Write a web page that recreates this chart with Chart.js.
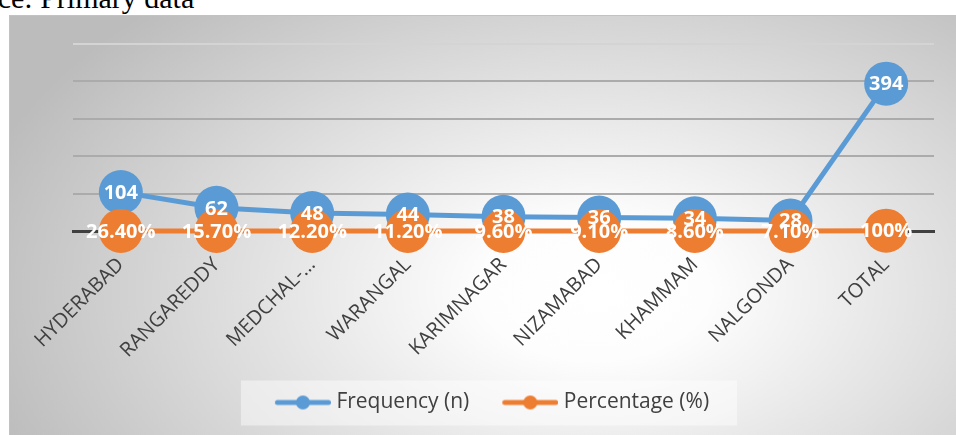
<!DOCTYPE html>
<html>
<head>
<meta charset="utf-8">
<script src="https://cdn.jsdelivr.net/npm/chart.js@4.4.0/dist/chart.umd.min.js"></script>
<style>
  html, body { margin: 0; padding: 0; width: 956px; height: 435px; overflow: hidden; background: #fff; }
  #source {
    position: absolute; left: -59px; top: -17px;
    font: 30px/30px "Liberation Serif", "Times New Roman", serif;
    color: #000; white-space: nowrap;
  }
  #box {
    position: absolute; left: 9px; top: 15px; width: 947px; height: 420px;
    background: radial-gradient(ellipse 640px 390px at 585px 275px, #ffffff 0%, #fdfdfd 18%, #bcbcbc 100%);
    box-shadow: inset 1px 1px 0 #c2c2c2;
  }
  #chart { position: absolute; left: 0; top: 0; }
</style>
</head>
<body>
<div id="source">Source: Primary data</div>
<div id="box"><canvas id="chart" width="947" height="420"></canvas></div>
<script>
  const districts = ['HYDERABAD', 'RANGAREDDY', 'MEDCHAL-…', 'WARANGAL', 'KARIMNAGAR', 'NIZAMABAD', 'KHAMMAM', 'NALGONDA', 'TOTAL'];
  const frequency = [104, 62, 48, 44, 38, 36, 34, 28, 394];
  const percentage = [0.264, 0.157, 0.122, 0.112, 0.096, 0.091, 0.086, 0.071, 1];
  const yTicks = [0, 100, 200, 300, 400, 500];

  const BLUE = '#5B9BD5';
  const ORANGE = '#ED7D31';

  function pctLabel(v) {
    return v === 1 ? '100%' : (v * 100).toFixed(2) + '%';
  }

  // line with a dot in the middle, drawn into a small canvas for the legend
  function legendSymbol(color) {
    const c = document.createElement('canvas');
    c.width = 84;
    c.height = 16;
    const g = c.getContext('2d');
    g.strokeStyle = color;
    g.lineWidth = 5;
    g.lineCap = 'round';
    g.beginPath();
    g.moveTo(30.5, 8);
    g.lineTo(81.5, 8);
    g.stroke();
    g.fillStyle = color;
    g.beginPath();
    g.arc(56, 8, 7, 0, Math.PI * 2);
    g.fill();
    return c;
  }

  // faint white panel behind the legend items
  const legendPanel = {
    id: 'legendPanel',
    beforeDraw(chart) {
      const boxes = chart.legend && chart.legend.legendHitBoxes;
      if (!boxes || !boxes.length) return;
      const first = boxes[0];
      const last = boxes[boxes.length - 1];
      const cy = first.top + first.height / 2;
      const ctx = chart.ctx;
      ctx.save();
      ctx.fillStyle = 'rgba(255,255,255,0.45)';
      ctx.fillRect(first.left - 11, cy - 22, last.left + last.width + 28 - (first.left - 11), 45);
      ctx.restore();
    }
  };

  // white value labels centred on every marker
  const valueLabels = {
    id: 'valueLabels',
    afterDatasetsDraw(chart) {
      const ctx = chart.ctx;
      ctx.save();
      ctx.fillStyle = '#ffffff';
      ctx.font = 'bold 20px "Open Sans"';
      ctx.textAlign = 'center';
      ctx.textBaseline = 'middle';
      chart.data.datasets.forEach((ds, i) => {
        const meta = chart.getDatasetMeta(i);
        meta.data.forEach((pt, j) => {
          const v = ds.data[j];
          const txt = i === 1 ? pctLabel(v) : String(v);
          ctx.fillText(txt, pt.x, pt.y + 1);
        });
      });
      ctx.restore();
    }
  };

  new Chart(document.getElementById('chart'), {
    type: 'line',
    data: {
      labels: districts,
      datasets: [{
        label: 'Frequency (n)',
        data: frequency,
        borderColor: BLUE,
        backgroundColor: BLUE,
        borderWidth: 5,
        pointRadius: 22,
        pointHoverRadius: 22,
        pointBorderWidth: 0,
        pointBackgroundColor: BLUE,
        tension: 0,
        clip: false,
        order: 1
      }, {
        label: 'Percentage (%)',
        data: percentage,
        borderColor: ORANGE,
        backgroundColor: ORANGE,
        borderWidth: 5,
        pointRadius: 22,
        pointHoverRadius: 22,
        pointBorderWidth: 0,
        pointBackgroundColor: ORANGE,
        tension: 0,
        clip: false,
        order: 0
      }]
    },
    options: {
      responsive: false,
      animation: false,
      events: [],
      layout: { padding: { left: 2, right: 6, top: 29, bottom: 12 } },
      scales: {
        x: {
          offset: true,
          grid: { display: false },
          border: { color: '#404040', width: 3 },
          ticks: {
            autoSkip: false,
            maxRotation: 45,
            minRotation: 45,
            padding: 14,
            color: '#404040',
            font: { family: 'Open Sans', size: 20 }
          },
          afterFit(scale) { scale.height = 151; }
        },
        y: {
          min: yTicks[0],
          max: yTicks[yTicks.length - 1],
          ticks: { display: false, stepSize: yTicks[1] - yTicks[0] },
          border: { display: false },
          grid: {
            drawTicks: false,
            lineWidth: 2,
            color: ctx => ctx.tick.value === yTicks[yTicks.length - 1] ? '#d4d4d4' : '#ababab'
          },
          afterFit(scale) { scale.width = 62; }
        }
      },
      plugins: {
        tooltip: { enabled: false },
        legend: {
          position: 'bottom',
          labels: {
            usePointStyle: true,
            pointStyleWidth: 74,
            padding: 10,
            color: '#404040',
            font: { family: 'Open Sans', size: 21 },
            generateLabels: chart => chart.data.datasets.map((ds, i) => ({
              text: ds.label,
              datasetIndex: i,
              pointStyle: legendSymbol(ds.borderColor),
              fontColor: '#404040',
              fillStyle: ds.borderColor,
              strokeStyle: ds.borderColor,
              lineWidth: 0,
              hidden: false
            }))
          }
        }
      }
    },
    plugins: [legendPanel, valueLabels]
  });
</script>
</body>
</html>
